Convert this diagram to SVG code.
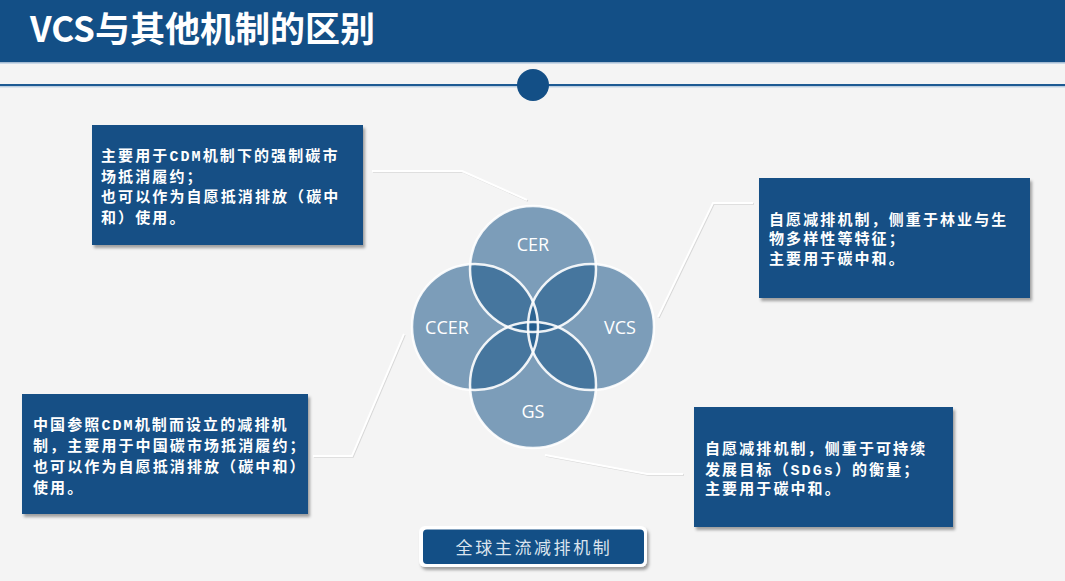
<svg xmlns="http://www.w3.org/2000/svg" width="1065" height="581" viewBox="0 0 1065 581">
<defs>
<filter id="sh" x="-10%" y="-10%" width="125%" height="130%">
<feDropShadow dx="2" dy="3" stdDeviation="1.6" flood-color="#000" flood-opacity="0.35"/>
</filter>
<style>
.box{fill:#154f85;}
.bt{font-family:"Liberation Mono","Noto Sans CJK SC",monospace;font-weight:bold;font-size:15px;fill:#ffffff;letter-spacing:2.1px;}
.circ{fill:#1a5588;fill-opacity:0.55;}
.ring{fill:none;stroke:#ffffff;stroke-width:2.5;stroke-opacity:0.9;}
.cl{font-family:"Open Sans","Noto Sans",sans-serif;font-size:18px;fill:#ffffff;text-anchor:middle;}
.ln{fill:none;stroke:#ffffff;stroke-width:2;}
.lns{fill:none;stroke:#d8d8d8;stroke-width:1.5;}
</style>
</defs>
<rect x="0" y="0" width="1065" height="581" fill="#f4f4f4"/>
<rect x="0" y="0" width="1065" height="62.5" fill="#134f86"/>
<rect x="0" y="62.5" width="1065" height="1.5" fill="#c9d8e8"/>
<text x="30" y="42" font-family="'Noto Sans CJK SC',sans-serif" font-weight="bold" font-size="35" fill="#ffffff">VCS与其他机制的区别</text>
<rect x="0" y="84" width="1065" height="2.2" fill="#1d5a93"/>
<rect x="0" y="86.2" width="1065" height="1.2" fill="#b9cde2"/>
<circle cx="533" cy="85" r="16" fill="#134f86"/>

<g id="connectors">
<polyline class="lns" points="373,172 463,172 528,201"/>
<polyline class="ln" points="372,171 462,171 527,200"/>
<polyline class="lns" points="314,457 353,457 405,335"/>
<polyline class="ln" points="313,456 352,456 404,334"/>
<polyline class="lns" points="659,318 714,204 754,204"/>
<polyline class="ln" points="658,317 713,203 753,203"/>
<polyline class="lns" points="546,456 648,475 684,475"/>
<polyline class="ln" points="545,455 647,474 683,474"/>
</g>

<g id="venn">
<circle class="circ" cx="533" cy="269" r="63"/>
<circle class="circ" cx="591" cy="327" r="63"/>
<circle class="circ" cx="533" cy="385" r="63"/>
<circle class="circ" cx="475" cy="327" r="63"/>
<circle class="ring" cx="533" cy="269" r="63"/>
<circle class="ring" cx="591" cy="327" r="63"/>
<circle class="ring" cx="533" cy="385" r="63"/>
<circle class="ring" cx="475" cy="327" r="63"/>
</g>
<g id="node-cer"><text class="cl" x="533" y="251">CER</text></g>
<g id="node-vcs"><text class="cl" x="620" y="334">VCS</text></g>
<g id="node-gs"><text class="cl" x="533" y="418">GS</text></g>
<g id="node-ccer"><text class="cl" x="447" y="334">CCER</text></g>

<g id="box-cer">
<rect class="box" x="92" y="125" width="271" height="120" filter="url(#sh)"/>
<text class="bt"><tspan x="101" y="161">主要用于CDM机制下的强制碳市</tspan><tspan x="101" y="181.5">场抵消履约；</tspan><tspan x="101" y="202">也可以作为自愿抵消排放（碳中</tspan><tspan x="101" y="222.5">和）使用。</tspan></text>
</g>

<g id="box-ccer">
<rect class="box" x="22" y="394" width="286" height="120" filter="url(#sh)"/>
<text class="bt"><tspan x="33" y="429.5">中国参照CDM机制而设立的减排机</tspan><tspan x="33" y="450.5">制，主要用于中国碳市场抵消履约；</tspan><tspan x="33" y="471.5">也可以作为自愿抵消排放（碳中和）</tspan><tspan x="33" y="492.5">使用。</tspan></text>
</g>

<g id="box-vcs">
<rect class="box" x="759" y="178" width="271" height="120" filter="url(#sh)"/>
<text class="bt"><tspan x="769" y="225">自愿减排机制，侧重于林业与生</tspan><tspan x="769" y="244">物多样性等特征；</tspan><tspan x="769" y="263.5">主要用于碳中和。</tspan></text>
</g>

<g id="box-gs">
<rect class="box" x="694" y="407" width="259" height="120" filter="url(#sh)"/>
<text class="bt"><tspan x="705" y="454">自愿减排机制，侧重于可持续</tspan><tspan x="705" y="474.5">发展目标（SDGs）的衡量；</tspan><tspan x="705" y="494">主要用于碳中和。</tspan></text>
</g>

<g id="label-global">
<rect x="419" y="526" width="228" height="41" rx="6" fill="#ffffff" filter="url(#sh)"/>
<rect x="423" y="529.5" width="221" height="34.5" rx="4" fill="#134f86"/>
<text x="534" y="554" font-family="'Noto Sans CJK SC',sans-serif" font-size="17" fill="#dbe4ee" text-anchor="middle" letter-spacing="2.6">全球主流减排机制</text>
</g>
</svg>
